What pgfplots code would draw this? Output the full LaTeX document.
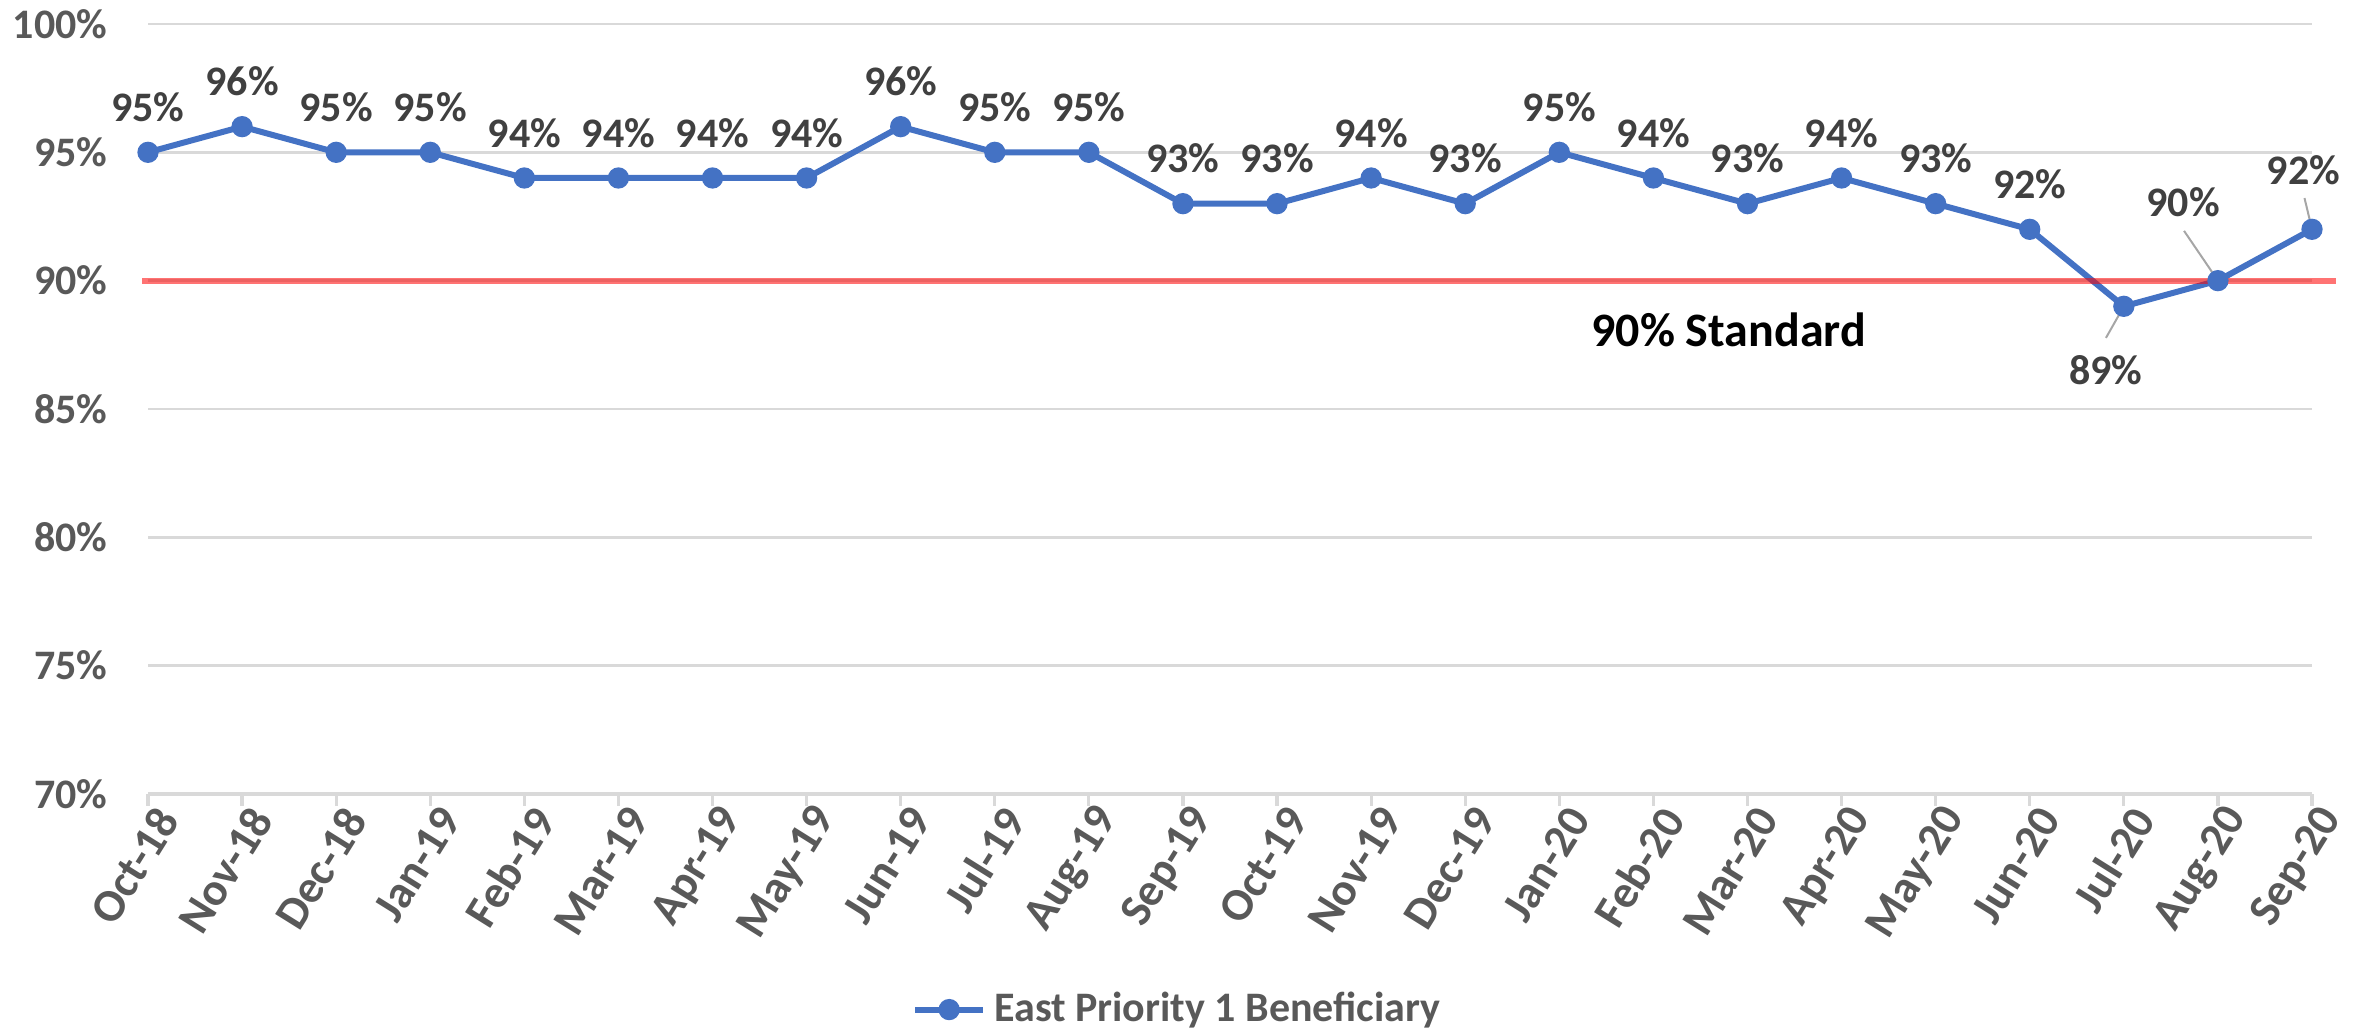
\documentclass[border=0pt]{standalone}
\usepackage{fontspec}
\setmainfont{Carlito}
\usepackage{pgfplots}
\usepackage{pgfplotstable}
\pgfplotsset{compat=1.18}
\definecolor{lineblue}{HTML}{4472C4}
\definecolor{labeltext}{HTML}{404040}
\definecolor{ticktext}{HTML}{595959}
\definecolor{gridgray}{HTML}{D9D9D9}
\definecolor{leadergray}{HTML}{A6A6A6}
\pgfplotstableread{
x y
0 95
1 96
2 95
3 95
4 94
5 94
6 94
7 94
8 96
9 95
10 95
11 93
12 93
13 94
14 93
15 95
16 94
17 93
18 94
19 93
20 92
21 89
22 90
23 92
}\maindata
\pgfplotstableread{
x y
0 95
1 96
2 95
3 95
4 94
5 94
6 94
7 94
8 96
9 95
10 95
11 93
12 93
13 94
14 93
15 95
16 94
17 93
18 94
19 93
20 92
}\labeldata
\begin{document}
\begin{tikzpicture}
\useasboundingbox (-37pt,-60pt) rectangle (555.25pt,198.5pt);
\begin{axis}[
  at={(0,0)}, anchor=south west, scale only axis,
  width=541pt, height=192.5pt,
  xmin=0, xmax=23, ymin=70, ymax=100,
  clip=false,
  /pgf/number format/assume math mode=true,
  ytick={70,75,...,100},
  yticklabel={\pgfmathprintnumber{\tick}\%},
  xtick={0,...,23},
  xticklabels={Oct-18,Nov-18,Dec-18,Jan-19,Feb-19,Mar-19,Apr-19,May-19,Jun-19,Jul-19,Aug-19,Sep-19,Oct-19,Nov-19,Dec-19,Jan-20,Feb-20,Mar-20,Apr-20,May-20,Jun-20,Jul-20,Aug-20,Sep-20},
  ymajorgrids, grid style={draw=gridgray, line width=0.7pt},
  axis x line*=bottom, axis y line*=left,
  y axis line style={draw=none},
  x axis line style={draw=gridgray, line width=0.8pt, -},
  ytick style={draw=none},
  xtick style={draw=gridgray, line width=0.8pt},
  tick align=outside, major tick length=3pt,
  ticklabel style={font=\bfseries\fontsize{10.5}{12}\selectfont, text=ticktext},
  yticklabel style={anchor=east, inner sep=0pt, xshift=-7pt},
  xticklabel style={rotate=58, anchor=east, inner sep=0pt, xshift=1.5pt, yshift=-5pt,
    font=\bfseries\fontsize{11.5}{13}\selectfont},
  legend style={at={(0.477,-0.28)}, anchor=center, draw=none, fill=none,
    font=\bfseries\fontsize{10.5}{12}\selectfont, text=ticktext},
  legend cell align=left,
]
\addplot[lineblue, line width=1.5pt, mark=*, mark size=1.9pt,
  mark options={solid, fill=lineblue, draw=lineblue}] table[x=x,y=y] {\maindata};
\addlegendentry{East Priority 1 Beneficiary}
\addplot[draw=none, mark=none, forget plot, point meta=y,
  nodes near coords={\pgfmathprintnumber{\pgfplotspointmeta}\%},
  nodes near coords style={anchor=center, yshift=11.25pt, text=labeltext,
    font=\bfseries\fontsize{10.5}{12}\selectfont}] table[x=x,y=y] {\labeldata};
\addplot[red, opacity=0.55, line width=1.5pt, forget plot] coordinates {(-0.06,90) (23.25,90)};
% leader lines and labels for the last three points
\draw[leadergray, line width=0.5pt] (axis cs:21,89) -- (axis cs:20.81,87.77);
\draw[leadergray, line width=0.5pt] (axis cs:22,90) -- (axis cs:21.64,91.94);
\draw[leadergray, line width=0.5pt] (axis cs:23,92) -- (axis cs:22.92,93.22);
\node[text=labeltext, font=\bfseries\fontsize{10.5}{12}\selectfont] at (axis cs:20.81,86.52) {89\%};
\node[text=labeltext, font=\bfseries\fontsize{10.5}{12}\selectfont] at (axis cs:21.63,93.07) {90\%};
\node[text=labeltext, font=\bfseries\fontsize{10.5}{12}\selectfont] at (axis cs:22.91,94.31) {92\%};
\node[text=black, font=\bfseries\fontsize{12}{14}\selectfont] at (axis cs:16.8,88.1) {90\% Standard};
\end{axis}
\end{tikzpicture}
\end{document}
